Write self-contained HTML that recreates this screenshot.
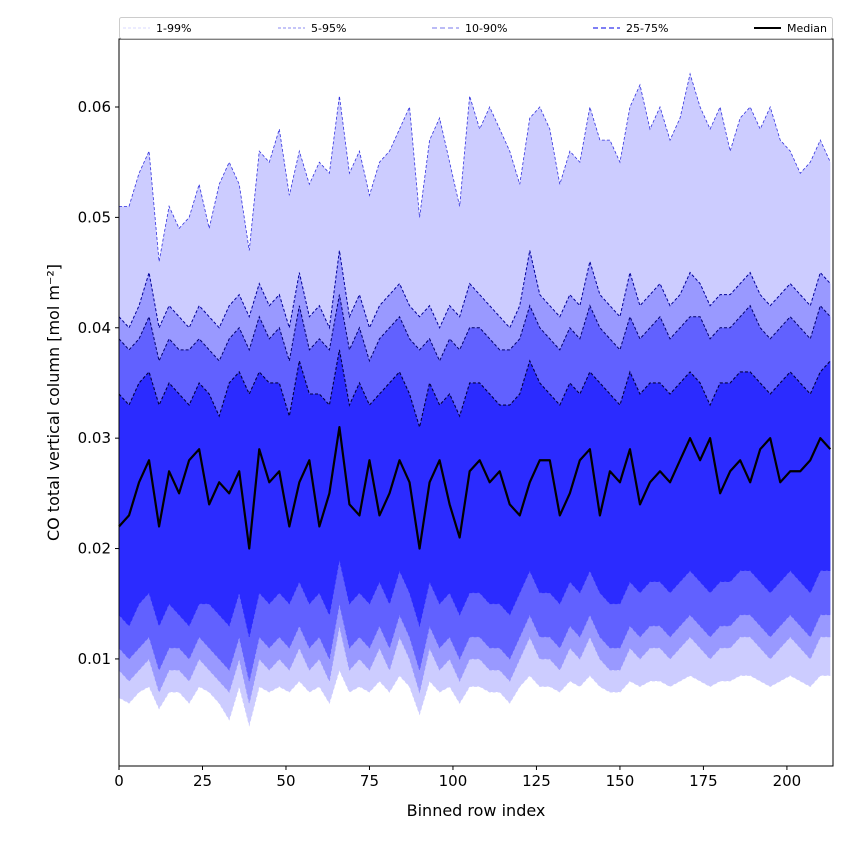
<!DOCTYPE html>
<html><head><meta charset="utf-8">
<style>
html,body{margin:0;padding:0;background:#fff;}
svg{display:block;font-family:"DejaVu Sans","Liberation Sans",sans-serif;}
</style></head>
<body>
<svg id="chart" width="850" height="850" viewBox="0 0 850 850">
  <g id="fills"></g>
  <g id="lines"></g>
  <g id="axes"></g>
  <g id="legend"></g>
</svg>
<script>
const xIndex = [];
for (let i = 0; i <= 213; i += 3) xIndex.push(i);
const p99 = [0.051,0.051,0.054,0.056,0.046,0.051,0.049,0.050,0.053,0.049,0.053,0.055,0.053,0.047,0.056,0.055,0.058,0.052,0.056,0.053,0.055,0.054,0.061,0.054,0.056,0.052,0.055,0.056,0.058,0.060,0.050,0.057,0.059,0.055,0.051,0.061,0.058,0.060,0.058,0.056,0.053,0.059,0.060,0.058,0.053,0.056,0.055,0.060,0.057,0.057,0.055,0.060,0.062,0.058,0.060,0.057,0.059,0.063,0.060,0.058,0.060,0.056,0.059,0.060,0.058,0.060,0.057,0.056,0.054,0.055,0.057,0.055];
const p95 = [0.041,0.040,0.042,0.045,0.040,0.042,0.041,0.040,0.042,0.041,0.040,0.042,0.043,0.041,0.044,0.042,0.043,0.040,0.045,0.041,0.042,0.040,0.047,0.041,0.043,0.040,0.042,0.043,0.044,0.042,0.041,0.042,0.040,0.042,0.041,0.044,0.043,0.042,0.041,0.040,0.042,0.047,0.043,0.042,0.041,0.043,0.042,0.046,0.043,0.042,0.041,0.045,0.042,0.043,0.044,0.042,0.043,0.045,0.044,0.042,0.043,0.043,0.044,0.045,0.043,0.042,0.043,0.044,0.043,0.042,0.045,0.044];
const p90 = [0.039,0.038,0.039,0.041,0.037,0.039,0.038,0.038,0.039,0.038,0.037,0.039,0.040,0.038,0.041,0.039,0.040,0.037,0.042,0.038,0.039,0.038,0.043,0.038,0.040,0.037,0.039,0.040,0.041,0.039,0.038,0.039,0.037,0.039,0.038,0.040,0.040,0.039,0.038,0.038,0.039,0.042,0.040,0.039,0.038,0.040,0.039,0.042,0.040,0.039,0.038,0.041,0.039,0.040,0.041,0.039,0.040,0.041,0.041,0.039,0.040,0.040,0.041,0.042,0.040,0.039,0.040,0.041,0.040,0.039,0.042,0.041];
const p75 = [0.034,0.033,0.035,0.036,0.033,0.035,0.034,0.033,0.035,0.034,0.032,0.035,0.036,0.034,0.036,0.035,0.035,0.032,0.037,0.034,0.034,0.033,0.038,0.033,0.035,0.033,0.034,0.035,0.036,0.034,0.031,0.035,0.033,0.034,0.032,0.035,0.035,0.034,0.033,0.033,0.034,0.037,0.035,0.034,0.033,0.035,0.034,0.036,0.035,0.034,0.033,0.036,0.034,0.035,0.035,0.034,0.035,0.036,0.035,0.033,0.035,0.035,0.036,0.036,0.035,0.034,0.035,0.036,0.035,0.034,0.036,0.037];
const median = [0.022,0.023,0.026,0.028,0.022,0.027,0.025,0.028,0.029,0.024,0.026,0.025,0.027,0.020,0.029,0.026,0.027,0.022,0.026,0.028,0.022,0.025,0.031,0.024,0.023,0.028,0.023,0.025,0.028,0.026,0.020,0.026,0.028,0.024,0.021,0.027,0.028,0.026,0.027,0.024,0.023,0.026,0.028,0.028,0.023,0.025,0.028,0.029,0.023,0.027,0.026,0.029,0.024,0.026,0.027,0.026,0.028,0.030,0.028,0.030,0.025,0.027,0.028,0.026,0.029,0.030,0.026,0.027,0.027,0.028,0.030,0.029];
const p25 = [0.014,0.013,0.015,0.016,0.013,0.015,0.014,0.013,0.015,0.015,0.014,0.013,0.016,0.012,0.016,0.015,0.016,0.015,0.017,0.015,0.016,0.014,0.019,0.015,0.016,0.015,0.017,0.015,0.018,0.016,0.013,0.017,0.015,0.016,0.014,0.016,0.016,0.015,0.015,0.014,0.016,0.018,0.016,0.016,0.015,0.017,0.016,0.018,0.016,0.015,0.015,0.017,0.016,0.017,0.017,0.016,0.017,0.018,0.017,0.016,0.017,0.017,0.018,0.018,0.017,0.016,0.017,0.018,0.017,0.016,0.018,0.018];
const p10 = [0.011,0.010,0.011,0.012,0.009,0.011,0.011,0.010,0.012,0.011,0.010,0.009,0.012,0.008,0.012,0.011,0.012,0.011,0.013,0.011,0.012,0.010,0.015,0.011,0.012,0.011,0.013,0.011,0.014,0.012,0.009,0.013,0.011,0.012,0.010,0.012,0.012,0.011,0.011,0.010,0.012,0.014,0.012,0.012,0.011,0.013,0.012,0.014,0.012,0.011,0.011,0.013,0.012,0.013,0.013,0.012,0.013,0.014,0.013,0.012,0.013,0.013,0.014,0.014,0.013,0.012,0.013,0.014,0.013,0.012,0.014,0.014];
const p5 = [0.009,0.008,0.009,0.010,0.007,0.009,0.009,0.008,0.010,0.009,0.008,0.007,0.010,0.006,0.010,0.009,0.010,0.009,0.011,0.009,0.010,0.008,0.013,0.009,0.010,0.009,0.011,0.009,0.012,0.010,0.007,0.011,0.009,0.010,0.008,0.010,0.010,0.009,0.009,0.008,0.010,0.012,0.010,0.010,0.009,0.011,0.010,0.012,0.010,0.009,0.009,0.011,0.010,0.011,0.011,0.010,0.011,0.012,0.011,0.010,0.011,0.011,0.012,0.012,0.011,0.010,0.011,0.012,0.011,0.010,0.012,0.012];
const p1 = [0.0065,0.006,0.007,0.0075,0.0055,0.007,0.007,0.006,0.0075,0.007,0.006,0.0045,0.0075,0.004,0.0075,0.007,0.0075,0.007,0.008,0.007,0.0075,0.006,0.009,0.007,0.0075,0.007,0.008,0.007,0.0085,0.0075,0.005,0.008,0.007,0.0075,0.006,0.0075,0.0075,0.007,0.007,0.006,0.0075,0.0085,0.0075,0.0075,0.007,0.008,0.0075,0.0085,0.0075,0.007,0.007,0.008,0.0075,0.008,0.008,0.0075,0.008,0.0085,0.008,0.0075,0.008,0.008,0.0085,0.0085,0.008,0.0075,0.008,0.0085,0.008,0.0075,0.0085,0.0085];
const xTicks = [0,25,50,75,100,125,150,175,200];
const yTicks = [0.01,0.02,0.03,0.04,0.05,0.06];
const legendLabels = ["1-99%","5-95%","10-90%","25-75%","Median"];

const NS = "http://www.w3.org/2000/svg";
const L = 119, R = 833, T = 39, B = 766;
const xMin = 0, xMax = 213.8, yMin = 0.0003, yMax = 0.06616;
const sx = v => L + (v - xMin) / (xMax - xMin) * (R - L);
const sy = v => B - (v - yMin) / (yMax - yMin) * (B - T);
function mk(tag, attrs, parent) {
  const e = document.createElementNS(NS, tag);
  for (const k in attrs) e.setAttribute(k, attrs[k]);
  parent.appendChild(e);
  return e;
}
const pts = arr => arr.map((v, i) => sx(xIndex[i]).toFixed(2) + "," + sy(v).toFixed(2));
const fills = document.getElementById("fills");
const lines = document.getElementById("lines");
const bands = [
  [p1, p99, "#ccccff", "#3333dd", 0.8, "band-1-99"],
  [p5, p95, "#9999ff", "#000099", 1, "band-5-95"],
  [p10, p90, "#6161ff", "#00006b", 1, "band-10-90"],
  [p25, p75, "#2b2bff", "#000040", 1.1, "band-25-75"]
];
bands.forEach(b => {
  const lo = pts(b[0]), hi = pts(b[1]);
  const poly = mk("polygon", {points: hi.concat(lo.slice().reverse()).join(" "), fill: b[2]}, fills);
  
  
  const up = mk("polyline", {points: hi.join(" "), fill: "none", stroke: b[3], "stroke-width": b[4], "stroke-dasharray": "3,2"}, lines);
  
  
  const dn = mk("polyline", {points: lo.join(" "), fill: "none", stroke: b[2], "stroke-width": 0.8, "stroke-dasharray": "3,2"}, lines);
  
  
});
const med = mk("polyline", {points: pts(median).join(" "), fill: "none", stroke: "#000", "stroke-width": 2.2, "stroke-linejoin": "round"}, lines);



const axes = document.getElementById("axes");
const frame = mk("rect", {x: L, y: T, width: R - L, height: B - T, fill: "none", stroke: "#000", "stroke-width": 1}, axes);


xTicks.forEach(t => {
  const x = sx(t);
  mk("line", {x1: x, x2: x, y1: B, y2: B + 4, stroke: "#000"}, axes);
  const tx = mk("text", {x: x, y: B + 20, "text-anchor": "middle", "font-size": 15}, axes);
  tx.textContent = t;
  
  
});
yTicks.forEach(t => {
  const y = sy(t);
  mk("line", {x1: L - 4, x2: L, y1: y, y2: y, stroke: "#000"}, axes);
  const tx = mk("text", {x: L - 8, y: y + 5, "text-anchor": "end", "font-size": 15}, axes);
  tx.textContent = t.toFixed(2);
  
  
});
const xt = mk("text", {x: (L + R) / 2, y: 816, "text-anchor": "middle", "font-size": 16}, axes);
xt.textContent = "Binned row index";


const yt = mk("text", {x: 0, y: 0, "text-anchor": "middle", "font-size": 16, transform: "translate(59," + ((T + B) / 2) + ") rotate(-90)"}, axes);
yt.textContent = "CO total vertical column [mol m\u207B\u00B2]";



const leg = document.getElementById("legend");
const lbox = mk("rect", {x: 119.5, y: 17.5, width: 713, height: 21, fill: "#fff", stroke: "#ccc", rx: 2}, leg);


const legX = [123, 278, 432, 593, 754];
const legStyle = [["#ccccff",0.8,"3,2"],["#6666ee",0.8,"3,2"],["#7777ee",1,"5,3"],["#3333ee",1.2,"5,3"],["#000",2,""]];
legendLabels.forEach((lab, i) => {
  const g = mk("g", {}, leg);
  
  
  const a = {x1: legX[i], x2: legX[i] + 27, y1: 28, y2: 28, stroke: legStyle[i][0], "stroke-width": legStyle[i][1]};
  if (legStyle[i][2]) a["stroke-dasharray"] = legStyle[i][2];
  mk("line", a, g);
  const tx = mk("text", {x: legX[i] + 33, y: 32, "font-size": 11}, g);
  tx.textContent = lab;
});
</script>
</body></html>
